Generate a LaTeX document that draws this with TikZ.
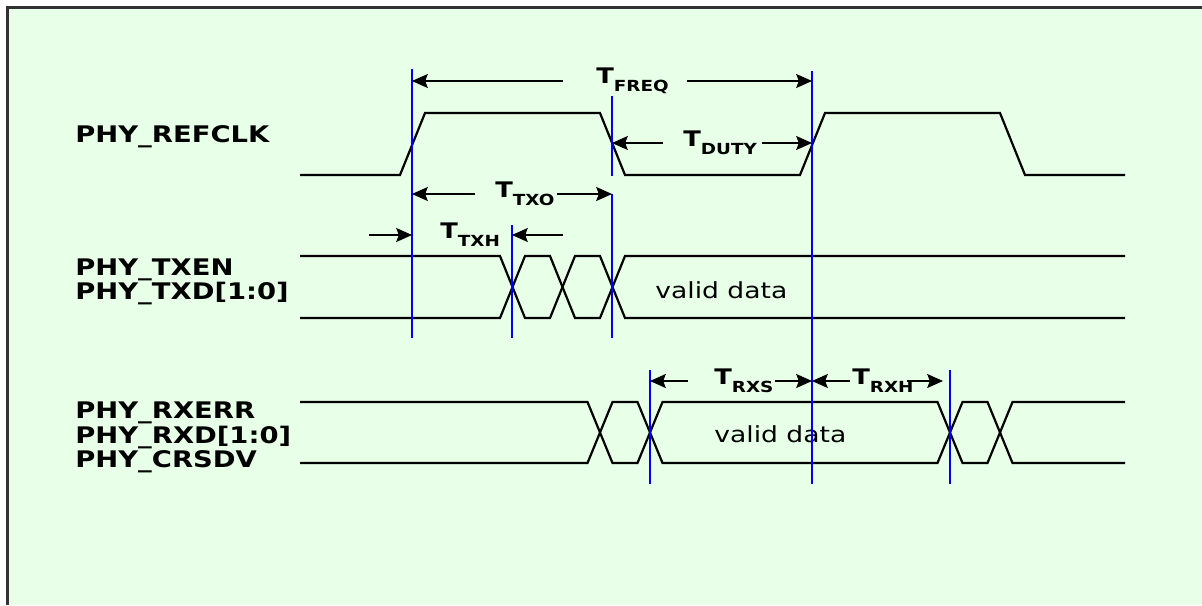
\documentclass[tikz,border=0pt]{standalone}
\usepackage{fontspec}
\setmainfont{DejaVu Sans}[FakeStretch=1.2]
\definecolor{Mint}{RGB}{232, 255, 232}
\definecolor{Frame}{RGB}{50, 50, 50}
\usetikzlibrary{arrows.meta}
\newcommand{\Tsub}[1]{T\raisebox{-4.7pt}{\fontsize{8.7}{10}\selectfont #1}}

\begin{document}
\begin{tikzpicture}[x=0.2cm, y=-0.2cm,
    every node/.style={inner sep=0pt},
    wave/.style={line width=1.25pt},
    marker/.style={blue, line width=0.8pt},
    dim/.style={-{Stealth[length=9pt, width=8pt, inset=1.5pt]}, line width=0.6pt},
    signame/.style={anchor=base west, font=\bfseries\fontsize{13}{15}\selectfont},
    tlabel/.style={anchor=west, font=\bfseries\fontsize{12.2}{14}\selectfont},
    datatext/.style={anchor=base west, font=\fontsize{12.6}{15}\selectfont}
]
% Background and frame
\useasboundingbox (0,0) rectangle (120.2,60.5);
\fill[white] (0,0) rectangle (120.2,60.5);
\fill[Mint] (0.75,0.75) rectangle (120.2,60.5);
\draw[Frame, line width=1.2pt] (0.75,60.5) -- (0.75,0.75) -- (120.2,0.75);
% Signal names
\foreach \name/\y [count=\i] in {PHY\_REFCLK/14.2, PHY\_TXEN/27.5, {PHY\_TXD[1:0]}/29.9,
    PHY\_RXERR/41.8, {PHY\_RXD[1:0]}/44.3, PHY\_CRSDV/46.7}
  \node[signame] (sig\i) at (7.5,\y) {\name};
% Clock
\draw[wave] (30,17.5) -- (40,17.5) -- (42.5,11.3) -- (60,11.3) -- (62.5,17.5) -- (80,17.5)
  -- (82.5,11.3) -- (100,11.3) -- (102.5,17.5) -- (112.5,17.5);
% TX bus
\foreach \a/\b in {25.6/31.8, 31.8/25.6}
  \draw[wave] (30,\a) -- (50,\a) -- (52.5,\b) -- (55,\b) -- (57.5,\a) -- (60,\a) -- (62.5,\b) -- (112.5,\b);
\node[datatext] (txdata) at (65.5,29.8) {valid data};
% RX bus
\foreach \a/\b in {40.2/46.3, 46.3/40.2}
  \draw[wave] (30,\a) -- (58.75,\a) -- (61.25,\b) -- (63.75,\b) -- (66.25,\a) -- (93.75,\a)
    -- (96.25,\b) -- (98.75,\b) -- (101.25,\a) -- (112.5,\a);
\node[datatext] (rxdata) at (71.4,44.2) {valid data};
% Markers
\draw[marker] (41.2,6.9) -- (41.2,33.8);
\draw[marker] (51.2,22.5) -- (51.2,33.8);
\draw[marker] (61.2,9.6) -- (61.2,17.6);
\draw[marker] (61.2,19.4) -- (61.2,33.8);
\draw[marker] (81.2,7.1) -- (81.2,48.4);
\draw[marker] (65,37) -- (65,48.4);
\draw[marker] (95,37) -- (95,48.4);
% Timing parameters
\foreach \name/\sub/\x/\y/\la/\lb/\ra/\rb in {
    freq/FREQ/59.6/8.1/56.3/41.2/68.7/81.2,
    duty/DUTY/68.3/14.3/66.3/61.2/76.2/81.2,
    txo/TXO/49.5/19.4/47.5/41.2/55.7/61.2,
    txh/TXH/44.0/23.5/36.9/41.2/56.3/51.2,
    rxs/RXS/71.4/38.1/68.8/65/77.5/81.2,
    rxh/RXH/85.2/38.1/85/81.2/90.7/94.3} {
  \node[tlabel] (t\name) at (\x,\y) {\Tsub{\sub}};
  \coordinate (\name l0) at (\la,\y); \coordinate (\name l1) at (\lb,\y);
  \coordinate (\name r0) at (\ra,\y); \coordinate (\name r1) at (\rb,\y);
  \draw[dim] (\name l0) -- (\name l1);
  \draw[dim] (\name r0) -- (\name r1);
}
\end{tikzpicture}
\end{document}
